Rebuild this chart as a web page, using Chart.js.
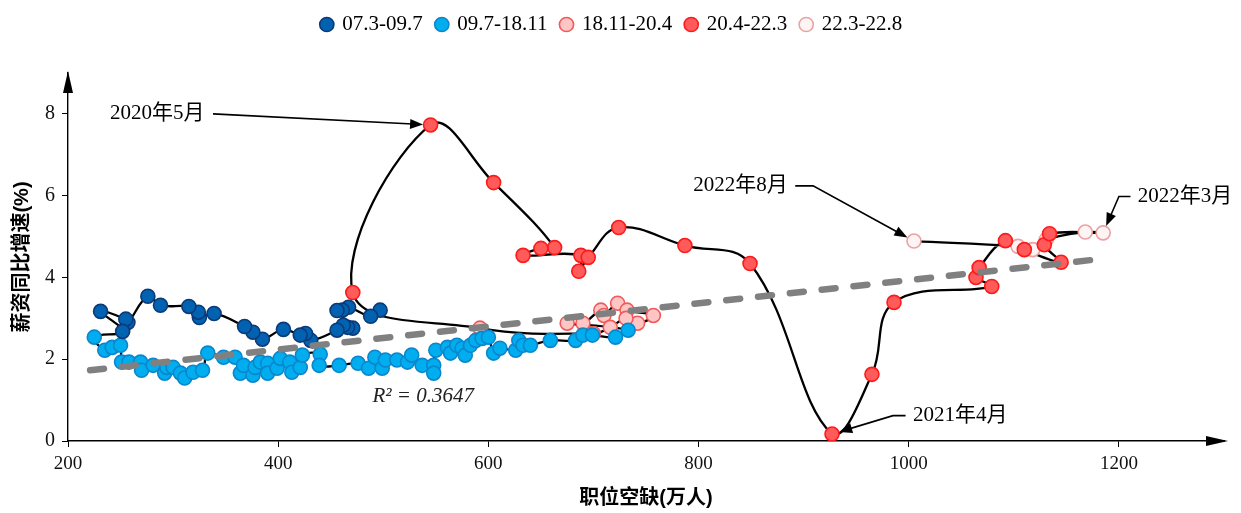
<!DOCTYPE html>
<html>
<head>
<meta charset="utf-8">
<script src="https://cdn.jsdelivr.net/npm/chart.js@4.4.1/dist/chart.umd.min.js"></script>
<style>
  html, body { margin: 0; padding: 0; background: #fff; }
  #wrap { width: 1241px; height: 513px; }
</style>
</head>
<body>
<div id="wrap"><canvas id="myChart"></canvas></div>
<script>
// 职位空缺(万人) vs 薪资同比增速(%), in time order inside each period
const darkX = [497, 488, 467, 461, 456, 471, 466, 462, 456, 431, 426, 421, 405, 385, 376, 368, 339, 325, 324, 315, 288, 276, 257, 255, 231, 252];
const darkY = [3.20, 3.05, 3.27, 3.20, 3.19, 2.76, 2.78, 2.83, 2.71, 2.46, 2.63, 2.59, 2.73, 2.49, 2.66, 2.80, 3.12, 3.02, 3.15, 3.29, 3.32, 3.54, 2.90, 2.98, 3.17, 2.68];

const lightX = [225, 235, 242, 250, 251, 258, 269, 270, 281, 292, 294, 300, 307, 311, 319, 328, 333, 348, 359, 364,
                367, 376, 378, 383, 390, 390, 399, 402, 411, 413, 421, 423, 440, 439, 458, 476, 486, 492, 499, 502,
                513, 523, 527, 537, 548, 548, 550, 561, 564, 570, 575, 578, 583, 588, 594, 600, 605, 611, 626, 629,
                633, 640, 659, 683, 690, 699, 721, 733];
const lightY = [2.54, 2.22, 2.29, 2.34, 1.93, 1.93, 1.93, 1.73, 1.85, 1.66, 1.80, 1.80, 1.66, 1.54, 1.68, 1.73, 2.15, 2.05, 2.05, 1.66,
                1.85, 1.61, 1.80, 1.93, 1.90, 1.66, 1.78, 2.02, 1.93, 1.68, 1.80, 2.10, 2.12, 1.85, 1.85, 1.90, 1.78, 2.05, 1.78, 1.98,
                1.98, 1.93, 2.10, 1.85, 1.85, 1.66, 2.22, 2.29, 2.15, 2.34, 2.27, 2.10, 2.34, 2.46, 2.51, 2.54, 2.15, 2.27, 2.22, 2.46,
                2.34, 2.34, 2.46, 2.46, 2.59, 2.59, 2.54, 2.71];

const pinkX = [675, 690, 707, 710, 723, 732, 757, 742, 731, 716, 700, 592];
const pinkY = [2.88, 2.88, 3.20, 3.07, 3.37, 3.20, 3.07, 2.88, 3.00, 2.78, 2.63, 2.76];

const redX = [471, 545, 605, 663, 650, 633, 688, 686, 695, 724, 787, 849, 927, 965, 986, 1079, 1064, 1067, 1092, 1110, 1145, 1129, 1134];
const redY = [3.63, 7.73, 6.32, 4.73, 4.71, 4.54, 4.54, 4.15, 4.49, 5.22, 4.78, 4.34, 0.17, 1.63, 3.39, 3.78, 4.00, 4.24, 4.90, 4.68, 4.37, 4.80, 5.07];

const paleX = [1185, 1168, 1131, 1118, 1104, 1005];
const paleY = [5.09, 5.11, 4.93, 4.68, 4.76, 4.89];

// dashed trend line, end points
const trendX = [221, 1182];
const trendY = [1.73, 4.45];

const xTicks = [200, 400, 600, 800, 1000, 1200];
const yTicks = [0, 2, 4, 6, 8];

const notes = [
  { label: '2020年5月', at: [330, 8.0], align: 'right', via: [[338, 8.0]], target: [545, 7.73] },
  { label: '2022年8月', at: [885, 6.24], align: 'right', via: [[892, 6.24], [909, 6.24]], target: [1005, 4.89] },
  { label: '2022年3月', at: [1218, 5.98], align: 'left', via: [[1211, 5.98], [1200, 5.98]], target: [1185, 5.09] },
  { label: '2021年4月', at: [1004, 0.62], align: 'left', via: [[997, 0.62], [985, 0.62]], target: [927, 0.17] }
];

function toPoints(xs, ys) {
  return xs.map(function (x, i) { return { x: x, y: ys[i] }; });
}

const pathPoints = [].concat(
  toPoints(darkX, darkY), toPoints(lightX, lightY), toPoints(pinkX, pinkY),
  toPoints(redX, redY), toPoints(paleX, paleY)
);

const serif = '"Liberation Serif", "Times New Roman", "Noto Sans CJK SC", serif';
const heavy = '"Liberation Sans", "Noto Sans CJK SC", sans-serif';

function series(label, xs, ys, fill, edge) {
  return {
    label: label,
    data: toPoints(xs, ys),
    backgroundColor: fill,
    borderColor: edge,
    borderWidth: 1.6,
    pointRadius: 7,
    pointHoverRadius: 7,
    showLine: false,
    order: 1
  };
}

function drawArrow(ctx, pts) {
  const n = pts.length;
  const x1 = pts[n - 2][0], y1 = pts[n - 2][1], x2 = pts[n - 1][0], y2 = pts[n - 1][1];
  const a = Math.atan2(y2 - y1, x2 - x1);
  const len = 13, half = 5;
  ctx.beginPath();
  ctx.moveTo(pts[0][0], pts[0][1]);
  for (let i = 1; i < n - 1; i++) ctx.lineTo(pts[i][0], pts[i][1]);
  ctx.lineTo(x2 - Math.cos(a) * len * 0.8, y2 - Math.sin(a) * len * 0.8);
  ctx.stroke();
  ctx.beginPath();
  ctx.moveTo(x2, y2);
  ctx.lineTo(x2 - len * Math.cos(a) + half * Math.sin(a), y2 - len * Math.sin(a) - half * Math.cos(a));
  ctx.lineTo(x2 - len * Math.cos(a) - half * Math.sin(a), y2 - len * Math.sin(a) + half * Math.cos(a));
  ctx.closePath();
  ctx.fill();
}

const legendSpace = {
  id: 'legendSpace',
  beforeInit(chart) {
    const fit = chart.legend.fit;
    chart.legend.fit = function () {
      fit.call(this);
      this.height = 73;
    };
  }
};

const extras = {
  id: 'extras',
  afterDraw(chart) {
    const ctx = chart.ctx;
    const xs = chart.scales.x, ys = chart.scales.y;
    const area = chart.chartArea;
    ctx.save();
    ctx.fillStyle = '#000';
    ctx.strokeStyle = '#000';

    // axis arrow heads
    ctx.beginPath();
    ctx.moveTo(area.left, area.top - 2);
    ctx.lineTo(area.left - 5, area.top + 20);
    ctx.lineTo(area.left + 5, area.top + 20);
    ctx.closePath();
    ctx.fill();
    ctx.beginPath();
    ctx.moveTo(area.right + 4, area.bottom);
    ctx.lineTo(area.right - 18, area.bottom - 5);
    ctx.lineTo(area.right - 18, area.bottom + 5);
    ctx.closePath();
    ctx.fill();

    // callouts
    ctx.lineWidth = 1.6;
    ctx.font = '21px ' + serif;
    ctx.textBaseline = 'middle';
    notes.forEach(function (n) {
      ctx.textAlign = n.align;
      ctx.fillText(n.label, xs.getPixelForValue(n.at[0]), ys.getPixelForValue(n.at[1]));
      const pts = n.via.map(function (p) { return [xs.getPixelForValue(p[0]), ys.getPixelForValue(p[1])]; });
      const tx = xs.getPixelForValue(n.target[0]), ty = ys.getPixelForValue(n.target[1]);
      const last = pts[pts.length - 1];
      const d = Math.hypot(tx - last[0], ty - last[1]);
      pts.push([tx - (tx - last[0]) / d * 7.5, ty - (ty - last[1]) / d * 7.5]);
      drawArrow(ctx, pts);
    });

    ctx.font = 'italic 21px ' + serif;
    ctx.textAlign = 'center';
    ctx.fillStyle = '#222';
    ctx.fillText('R² = 0.3647', xs.getPixelForValue(538), ys.getPixelForValue(1.1));
    ctx.restore();
  }
};

const ctx = document.getElementById('myChart');

new Chart(ctx, {
  type: 'scatter',
  data: {
    datasets: [
      {
        label: 'path',
        data: pathPoints,
        showLine: true,
        borderColor: '#000',
        borderWidth: 2.3,
        tension: 0.4,
        pointRadius: 0,
        pointHoverRadius: 0,
        order: 2
      },
      series('07.3-09.7', darkX, darkY, '#0062b0', '#0c3a78'),
      series('09.7-18.11', lightX, lightY, '#00adef', '#0a86cc'),
      series('18.11-20.4', pinkX, pinkY, '#ffc4c4', '#f05a5a'),
      series('20.4-22.3', redX, redY, '#ff5b5b', '#ff1a1a'),
      series('22.3-22.8', paleX, paleY, '#fff4f4', '#e9a3a3'),
      {
        label: 'trend',
        data: toPoints(trendX, trendY),
        showLine: true,
        borderColor: '#808080',
        borderWidth: 6.5,
        borderDash: [14, 18],
        borderCapStyle: 'round',
        pointRadius: 0,
        pointHoverRadius: 0,
        order: 0
      }
    ]
  },
  options: {
    responsive: true,
    maintainAspectRatio: false,
    animation: false,
    events: [],
    layout: { padding: { left: 0, right: 17, top: 0, bottom: 0 } },
    plugins: {
      tooltip: { enabled: false },
      legend: {
        position: 'top',
        labels: {
          usePointStyle: true,
          pointStyle: 'circle',
          boxWidth: 10,
          boxHeight: 10,
          padding: 14,
          color: '#000',
          font: { family: serif, size: 21 },
          filter: function (item) { return item.text !== 'path' && item.text !== 'trend'; }
        }
      }
    },
    scales: {
      x: {
        type: 'linear',
        min: 200,
        max: 1300,
        afterFit: function (scale) { scale.height = 72; },
        afterBuildTicks: function (scale) { scale.ticks = xTicks.map(function (v) { return { value: v }; }); },
        ticks: {
          color: '#111',
          padding: 6,
          font: { family: serif, size: 19 },
          callback: function (value) { return String(value); }
        },
        grid: { display: true, drawOnChartArea: false, drawTicks: true, tickLength: 6, color: '#000', lineWidth: 1 },
        border: { display: true, color: '#000', width: 1.4 },
        title: {
          display: true,
          text: '职位空缺(万人)',
          color: '#000',
          font: { family: heavy, size: 20, weight: 'bold' },
          padding: { top: 0, bottom: 3 }
        }
      },
      y: {
        type: 'linear',
        min: 0,
        max: 9,
        afterFit: function (scale) { scale.width = 68; },
        afterBuildTicks: function (scale) { scale.ticks = yTicks.map(function (v) { return { value: v }; }); },
        ticks: {
          color: '#111',
          padding: 7,
          font: { family: serif, size: 20 },
          callback: function (value) { return String(value); }
        },
        grid: { display: true, drawOnChartArea: false, drawTicks: true, tickLength: 6, color: '#000', lineWidth: 1 },
        border: { display: true, color: '#000', width: 1.4 },
        title: {
          display: true,
          text: '薪资同比增速(%)',
          color: '#000',
          font: { family: heavy, size: 20, weight: 'bold' },
          padding: { top: 10, bottom: 0 }
        }
      }
    }
  },
  plugins: [legendSpace, extras]
});
</script>
</body>
</html>
